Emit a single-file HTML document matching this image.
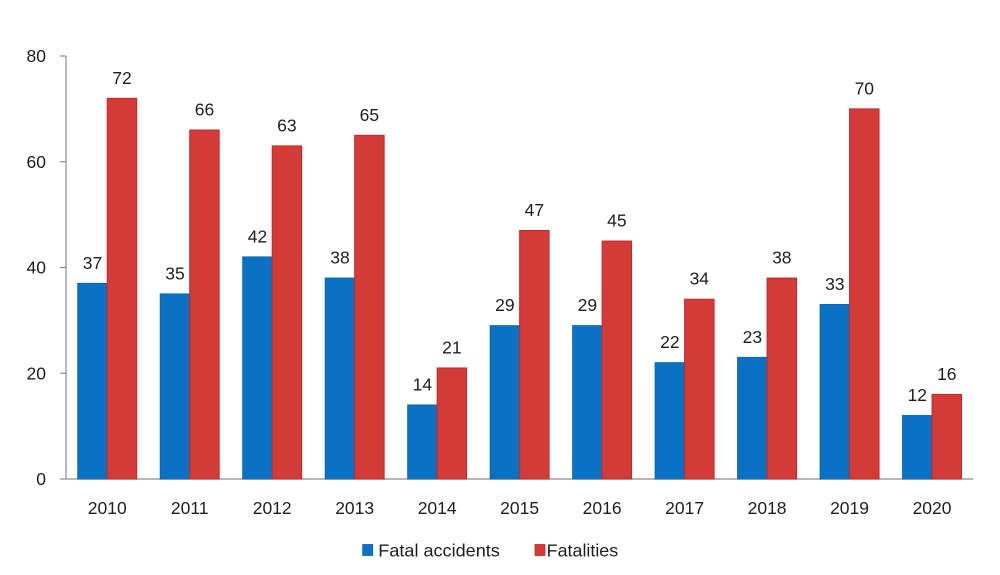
<!DOCTYPE html>
<html>
<head>
<meta charset="utf-8">
<style>
  html, body { margin: 0; padding: 0; background: #ffffff; }
  svg { display: block; }
  text { font-family: "Liberation Sans", "DejaVu Sans", sans-serif; fill: #1e1e1e; }
</style>
</head>
<body>
<svg width="1000" height="575" viewBox="0 0 1000 575" xmlns="http://www.w3.org/2000/svg">
  <rect x="0" y="0" width="1000" height="575" fill="#ffffff"/>

  <!-- Axes -->
  <line x1="66" y1="56" x2="66" y2="479" stroke="#8c8c8c" stroke-width="1.2"/>
  <line x1="66" y1="479" x2="973.3" y2="479" stroke="#8c8c8c" stroke-width="1.2"/>
  <g stroke="#8c8c8c" stroke-width="1.2">
    <line x1="60" y1="56" x2="66" y2="56"/>
    <line x1="60" y1="161.75" x2="66" y2="161.75"/>
    <line x1="60" y1="267.5" x2="66" y2="267.5"/>
    <line x1="60" y1="373.25" x2="66" y2="373.25"/>
    <line x1="60" y1="479" x2="66" y2="479"/>
  </g>

  <!-- Y labels -->
  <g font-size="17.5" text-anchor="end">
    <text x="46" y="62">80</text>
    <text x="46" y="167.8">60</text>
    <text x="46" y="273.5">40</text>
    <text x="46" y="379.3">20</text>
    <text x="46" y="485">0</text>
  </g>

  <!-- Blue bars -->
  <g fill="#0B72C3" stroke="#0A66AF" stroke-width="1">
    <rect x="77.78" y="283.36" width="29.46" height="195.64"/>
    <rect x="160.26" y="293.94" width="29.46" height="185.06"/>
    <rect x="242.74" y="256.92" width="29.46" height="222.08"/>
    <rect x="325.22" y="278.07" width="29.46" height="200.93"/>
    <rect x="407.70" y="404.97" width="29.46" height="74.03"/>
    <rect x="490.18" y="325.66" width="29.46" height="153.34"/>
    <rect x="572.66" y="325.66" width="29.46" height="153.34"/>
    <rect x="655.14" y="362.67" width="29.46" height="116.33"/>
    <rect x="737.62" y="357.39" width="29.46" height="121.61"/>
    <rect x="820.10" y="304.51" width="29.46" height="174.49"/>
    <rect x="902.58" y="415.55" width="29.46" height="63.45"/>
  </g>

  <!-- Red bars -->
  <g fill="#D43A38" stroke="#BF2A28" stroke-width="1">
    <rect x="107.24" y="98.3" width="29.46" height="380.7"/>
    <rect x="189.72" y="130.02" width="29.46" height="348.98"/>
    <rect x="272.20" y="145.89" width="29.46" height="333.11"/>
    <rect x="354.68" y="135.31" width="29.46" height="343.69"/>
    <rect x="437.16" y="367.96" width="29.46" height="111.04"/>
    <rect x="519.64" y="230.49" width="29.46" height="248.51"/>
    <rect x="602.12" y="241.06" width="29.46" height="237.94"/>
    <rect x="684.60" y="299.22" width="29.46" height="179.78"/>
    <rect x="767.08" y="278.07" width="29.46" height="200.93"/>
    <rect x="849.56" y="108.87" width="29.46" height="370.13"/>
    <rect x="932.04" y="394.4" width="29.46" height="84.6"/>
  </g>

  <!-- Data labels blue -->
  <g font-size="17.5" text-anchor="middle">
    <text x="92.5" y="268.9">37</text>
    <text x="175" y="279.4">35</text>
    <text x="257.5" y="242.4">42</text>
    <text x="340" y="263.6">38</text>
    <text x="422.4" y="390.5">14</text>
    <text x="504.9" y="311.2">29</text>
    <text x="587.4" y="311.2">29</text>
    <text x="669.9" y="348.2">22</text>
    <text x="752.4" y="342.9">23</text>
    <text x="834.8" y="290">33</text>
    <text x="917.3" y="401">12</text>
  </g>

  <!-- Data labels red -->
  <g font-size="17.5" text-anchor="middle">
    <text x="122" y="83.8">72</text>
    <text x="204.5" y="115.5">66</text>
    <text x="286.9" y="131.4">63</text>
    <text x="369.4" y="120.8">65</text>
    <text x="451.9" y="353.5">21</text>
    <text x="534.4" y="216">47</text>
    <text x="616.9" y="226.6">45</text>
    <text x="699.3" y="284.7">34</text>
    <text x="781.8" y="263.6">38</text>
    <text x="864.3" y="94.4">70</text>
    <text x="946.8" y="379.9">16</text>
  </g>

  <!-- X labels -->
  <g font-size="17.5" text-anchor="middle">
    <text x="107.24" y="514">2010</text>
    <text x="189.72" y="514">2011</text>
    <text x="272.2" y="514">2012</text>
    <text x="354.68" y="514">2013</text>
    <text x="437.16" y="514">2014</text>
    <text x="519.64" y="514">2015</text>
    <text x="602.12" y="514">2016</text>
    <text x="684.6" y="514">2017</text>
    <text x="767.08" y="514">2018</text>
    <text x="849.56" y="514">2019</text>
    <text x="932.04" y="514">2020</text>
  </g>

  <!-- Legend -->
  <rect x="362.7" y="544.5" width="10" height="11" fill="#0B72C3" stroke="#0A66AF" stroke-width="0.8"/>
  <text x="378.3" y="556.5" font-size="17.5" textLength="121.5" lengthAdjust="spacingAndGlyphs">Fatal accidents</text>
  <rect x="535" y="544.5" width="10" height="11" fill="#D43A38" stroke="#BF2A28" stroke-width="0.8"/>
  <text x="546.7" y="556.5" font-size="17.5" textLength="71.5" lengthAdjust="spacingAndGlyphs">Fatalities</text>
</svg>
</body>
</html>
